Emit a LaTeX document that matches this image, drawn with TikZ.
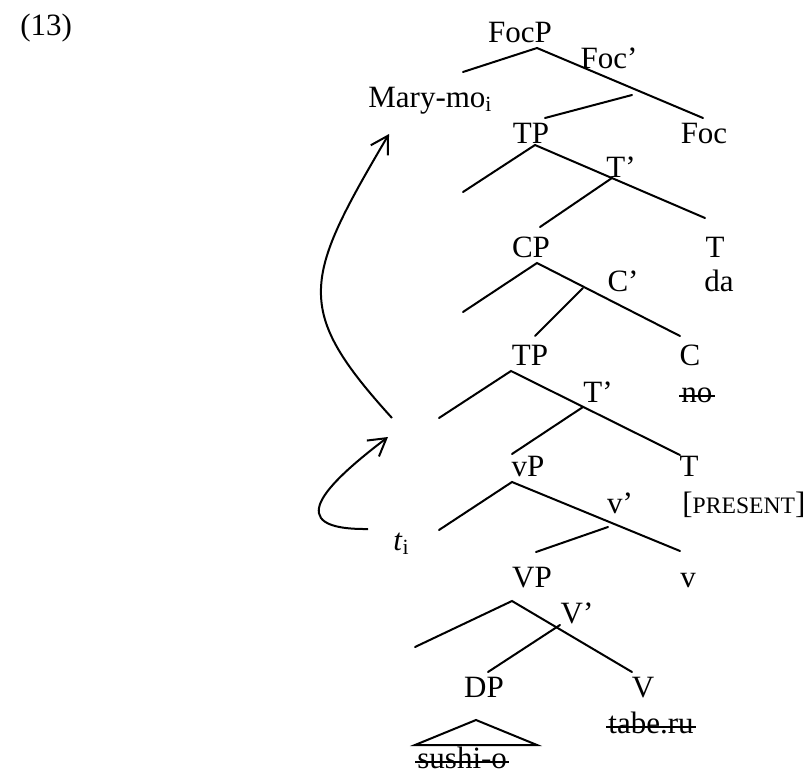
\documentclass[tikz,border=0pt]{standalone}
\usepackage{fontspec}
\setmainfont{Liberation Serif}
\usetikzlibrary{arrows.meta}

\newcommand\smallcap[1]{{\fontsize{11.8}{14}\selectfont #1}}

\begin{document}
\begin{tikzpicture}[x=0.5pt,y=-0.5pt,
  lbl/.style={anchor=base,inner sep=0pt,font=\fontsize{15.5}{18}\selectfont},
  branch/.style={line width=1pt,line cap=round},
  strike/.style={line width=0.9pt},
  move/.style={line width=1pt,-{Straight Barb[length=8.5pt,width=10pt,line width=1pt]}}]

\useasboundingbox (0,0) rectangle (810,777);

% Labels
\node[lbl,anchor=base west] (ex) at (20,35) {(13)};
\node[lbl] (focp) at (520,42) {FocP};
\node[lbl] (focbar) at (609,68) {Foc’};
\node[lbl,anchor=base west] (mary) at (368,107) {Mary-mo\textsubscript{i}};
\node[lbl] (tp1) at (531,143) {TP};
\node[lbl] (foc) at (704,143) {Foc};
\node[lbl] (tbar1) at (621,177) {T’};
\node[lbl] (cp) at (531,257) {CP};
\node[lbl] (t1) at (715,257) {T};
\node[lbl] (cbar) at (623,291) {C’};
\node[lbl] (da) at (719,291) {da};
\node[lbl] (tp2) at (530,365) {TP};
\node[lbl] (c) at (690,365) {C};
\node[lbl] (tbar2) at (598,402) {T’};
\node[lbl,anchor=base west] (no) at (681,402) {no};
\node[lbl] (vp) at (528,476) {vP};
\node[lbl] (t2) at (689,476) {T};
\node[lbl] (vbar) at (620,513) {v’};
\node[lbl,anchor=base west] (present) at (682,513) {[\smallcap{PRESENT}]};
\node[lbl,anchor=base west] (trace) at (393,550) {\textit{t}\textsubscript{i}};
\node[lbl] (bigvp) at (532,587) {VP};
\node[lbl] (v) at (688,587) {v};
\node[lbl] (bigvbar) at (577,623) {V’};
\node[lbl] (dp) at (484,697) {DP};
\node[lbl] (bigv) at (643,697) {V};
\node[lbl,anchor=base west] (tabe) at (608,733) {tabe.ru};
\node[lbl,anchor=base west] (sushi) at (417,768) {sushi-o};

% Branch ends
\coordinate (focp-a) at (537,48);  \coordinate (focp-l) at (463,72);  \coordinate (focp-r) at (703,118);
\coordinate (focbar-u) at (632,95); \coordinate (focbar-d) at (545,118);
\coordinate (tp1-a) at (535,145);  \coordinate (tp1-l) at (463,192);  \coordinate (tp1-r) at (705,218);
\coordinate (tbar1-u) at (612,178); \coordinate (tbar1-d) at (540,227);
\coordinate (cp-a) at (537,263);   \coordinate (cp-l) at (463,312);   \coordinate (cp-r) at (680,336);
\coordinate (cbar-u) at (583,288); \coordinate (cbar-d) at (535,336);
\coordinate (tp2-a) at (511,371);  \coordinate (tp2-l) at (439,418);  \coordinate (tp2-r) at (680,455);
\coordinate (tbar2-u) at (583,407); \coordinate (tbar2-d) at (512,454);
\coordinate (vp-a) at (512,482);   \coordinate (vp-l) at (439,530);   \coordinate (vp-r) at (680,551);
\coordinate (vbar-u) at (608,527); \coordinate (vbar-d) at (536,552);
\coordinate (bigvp-a) at (512,601); \coordinate (bigvp-l) at (415,647); \coordinate (bigvp-r) at (632,672);
\coordinate (bigvbar-u) at (560,625); \coordinate (bigvbar-d) at (488,672);
\coordinate (tri-a) at (476,720);  \coordinate (tri-l) at (415,745);  \coordinate (tri-r) at (537,745);

% Tree
\draw[branch] (focp-l) -- (focp-a) -- (focp-r);
\draw[branch] (focbar-u) -- (focbar-d);
\draw[branch] (tp1-l) -- (tp1-a) -- (tp1-r);
\draw[branch] (tbar1-u) -- (tbar1-d);
\draw[branch] (cp-l) -- (cp-a) -- (cp-r);
\draw[branch] (cbar-u) -- (cbar-d);
\draw[branch] (tp2-l) -- (tp2-a) -- (tp2-r);
\draw[branch] (tbar2-u) -- (tbar2-d);
\draw[branch] (vp-l) -- (vp-a) -- (vp-r);
\draw[branch] (vbar-u) -- (vbar-d);
\draw[branch] (bigvp-l) -- (bigvp-a) -- (bigvp-r);
\draw[branch] (bigvbar-u) -- (bigvbar-d);
\draw[branch] (tri-l) -- (tri-a) -- (tri-r) -- cycle;

% Deleted copies
\draw[strike] ([xshift=-1pt,yshift=3pt]no.base west) -- ([xshift=1pt,yshift=3pt]no.base east);
\draw[strike] ([xshift=-1pt,yshift=3pt]tabe.base west) -- ([xshift=1pt,yshift=3pt]tabe.base east);
\draw[strike] ([xshift=-1pt,yshift=3pt]sushi.base west) -- ([xshift=1pt,yshift=3pt]sushi.base east);

% Movement
\coordinate (mv1-s) at (392,418); \coordinate (mv1-e) at (389,134);
\coordinate (mv2-s) at (368,529); \coordinate (mv2-e) at (388,437);
\draw[move] (mv1-s) .. controls (293,309) and (303,280) .. (mv1-e);
\draw[move] (mv2-s) .. controls (280,530) and (325,485) .. (mv2-e);

\end{tikzpicture}
\end{document}
